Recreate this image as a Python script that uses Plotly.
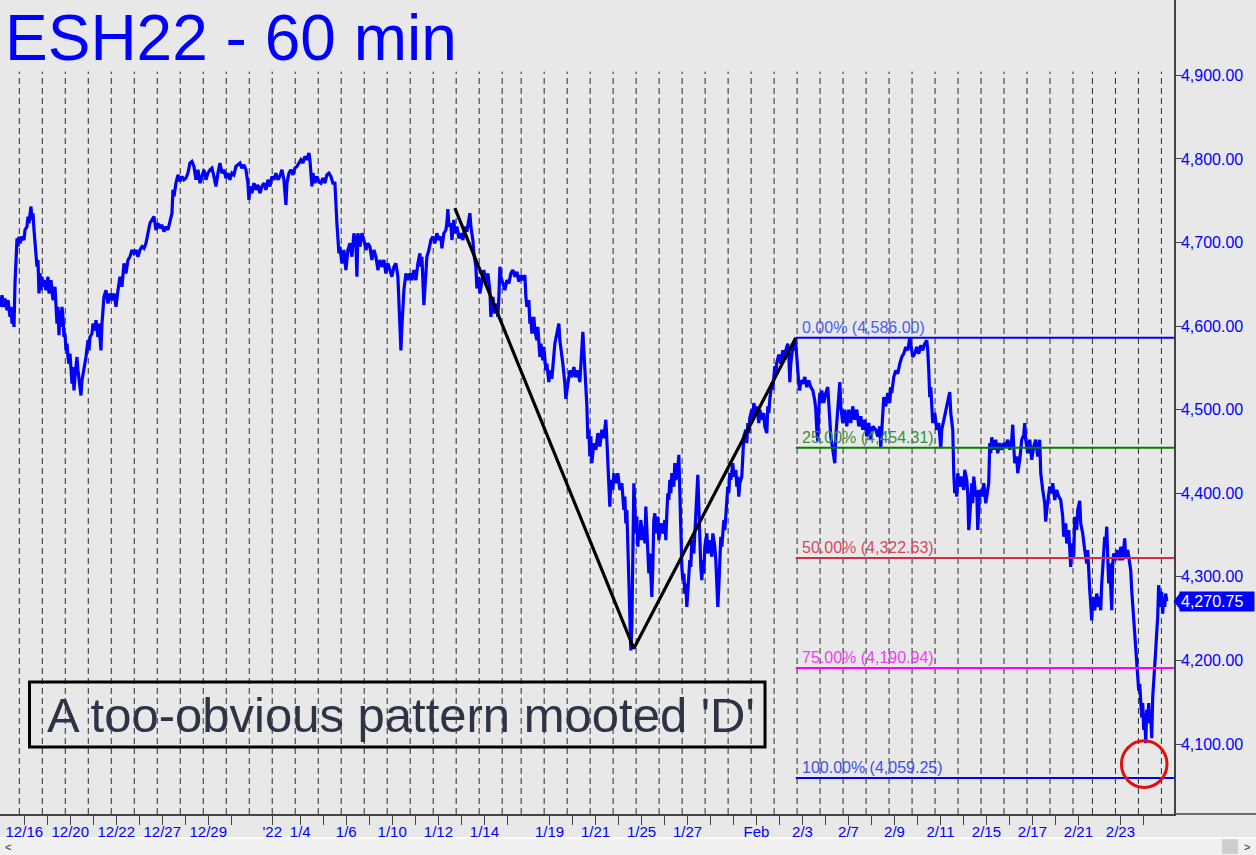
import math
import plotly.graph_objects as go

TITLE = "ESH22 - 60 min"
NOTE = "A too-obvious pattern mooted 'D'"
LAST_PRICE = 4270.75

# hourly closes: (bar index, price)
SEG_DEC = [
    (0, 4635), (1, 4623), (2, 4637), (4, 4623), (5, 4633), (7, 4619), (8, 4631), (10, 4611), (11, 4623),
    (12, 4603), (13, 4615), (14, 4599), (15, 4651), (16, 4691), (17, 4705), (18, 4695), (19, 4707), (20, 4699),
    (22, 4707), (24, 4703), (25, 4715), (27, 4719), (28, 4731), (29, 4723), (31, 4743), (32, 4727), (33, 4735),
    (34, 4715), (35, 4695), (36, 4687), (37, 4671), (38, 4679), (39, 4639), (40, 4663), (41, 4643), (42, 4659),
    (43, 4647), (44, 4655), (46, 4643), (48, 4659), (49, 4639), (51, 4655), (53, 4631), (55, 4647), (56, 4627),
    (57, 4603), (58, 4623), (59, 4589), (60, 4619), (61, 4599), (62, 4623), (63, 4611), (64, 4587), (65, 4591),
    (66, 4571), (67, 4579), (68, 4563), (69, 4555), (70, 4567), (71, 4547), (72, 4531), (73, 4551), (74, 4523),
    (75, 4539), (77, 4563), (78, 4547), (80, 4531), (81, 4517), (82, 4535), (84, 4547), (86, 4563), (88, 4583),
    (89, 4571), (90, 4587), (92, 4591), (93, 4603), (95, 4595), (96, 4607), (98, 4587), (99, 4603), (101, 4571),
    (102, 4603), (103, 4619), (104, 4635), (106, 4643), (108, 4627), (110, 4639), (112, 4631), (114, 4639),
    (116, 4623), (118, 4643), (120, 4659), (122, 4647), (124, 4675), (126, 4663), (128, 4679), (130, 4683),
    (132, 4691), (134, 4687), (136, 4691), (138, 4683), (140, 4691), (142, 4695), (144, 4693), (146, 4699),
    (148, 4711), (150, 4723), (152, 4727), (154, 4731), (156, 4715), (158, 4723), (160, 4717), (162, 4721),
    (164, 4713), (166, 4719), (168, 4715), (170, 4727), (172, 4735), (173, 4763), (174, 4755), (176, 4771),
    (178, 4781), (180, 4773), (182, 4779), (184, 4775), (186, 4777), (188, 4783), (190, 4795), (192, 4797),
    (194, 4791), (196, 4775), (198, 4787), (200, 4771), (202, 4779), (204, 4787), (206, 4775), (208, 4783),
    (210, 4787), (212, 4789), (214, 4779), (216, 4767), (218, 4783), (220, 4795), (222, 4783), (224, 4787),
    (226, 4777), (228, 4783), (230, 4775), (232, 4783), (234, 4781), (236, 4791), (238, 4793), (240, 4795),
    (242, 4789), (244, 4793), (246, 4787), (248, 4771), (249, 4751), (250, 4767), (252, 4759), (254, 4771),
    (256, 4763), (258, 4769), (260, 4759), (262, 4767), (264, 4771), (266, 4763), (268, 4775), (270, 4767),
]

SEG_JAN_A = [
    (272, 4779), (274, 4775), (276, 4783), (278, 4775), (280, 4779), (282, 4787), (284, 4775), (286, 4745),
    (287, 4771), (289, 4783), (291, 4787), (293, 4781), (295, 4789), (297, 4791), (299, 4795), (301, 4799),
    (303, 4795), (305, 4803), (307, 4799), (309, 4807), (310, 4799), (311, 4787), (312, 4767), (313, 4783),
    (315, 4771), (317, 4779), (319, 4773), (321, 4771), (323, 4777), (325, 4771), (327, 4781), (329, 4783),
    (331, 4779), (333, 4771), (335, 4771), (337, 4723), (338, 4699), (339, 4687), (340, 4695), (342, 4675),
    (344, 4691), (346, 4667), (348, 4691), (350, 4699), (352, 4683), (354, 4711), (356, 4699), (357, 4659),
    (358, 4711), (360, 4695), (362, 4711), (364, 4703), (366, 4691), (368, 4699), (370, 4695), (372, 4679),
    (374, 4691), (376, 4683), (378, 4667), (380, 4679), (382, 4671), (384, 4679), (386, 4663), (388, 4675),
    (390, 4667), (392, 4659), (394, 4671), (396, 4675), (398, 4659), (399, 4631), (400, 4603), (401, 4571),
    (402, 4599), (403, 4619), (404, 4643), (406, 4663), (408, 4655), (410, 4663), (412, 4655), (414, 4667),
    (416, 4655), (418, 4675), (420, 4687), (421, 4671), (422, 4683), (424, 4625), (425, 4643), (427, 4683),
    (429, 4691), (431, 4703), (433, 4707), (435, 4699), (437, 4711), (439, 4703), (441, 4707), (442, 4693),
    (444, 4711), (446, 4715), (447, 4723), (448, 4740), (449, 4719), (451, 4723), (452, 4703), (454, 4727),
    (455, 4711), (457, 4719), (459, 4705), (461, 4711), (463, 4703), (465, 4719), (467, 4713), (469, 4725),
    (470, 4735), (471, 4719), (473, 4703), (474, 4687), (476, 4671), (477, 4645), (479, 4659), (480, 4639),
    (482, 4655), (484, 4667), (486, 4651), (488, 4663), (490, 4643), (491, 4611), (493, 4635), (495, 4615),
    (497, 4627), (498, 4611), (499, 4635), (500, 4671), (501, 4659), (503, 4651), (505, 4643), (507, 4655),
    (509, 4651), (511, 4663), (513, 4667), (515, 4659), (517, 4665), (519, 4653), (521, 4661), (523, 4655),
    (525, 4661), (526, 4635), (527, 4623), (529, 4631), (530, 4603), (531, 4611), (532, 4591), (534, 4611),
    (535, 4595), (537, 4583), (538, 4599), (540, 4563), (541, 4579), (543, 4559), (544, 4575), (546, 4547),
    (547, 4555), (549, 4533), (550, 4547), (552, 4537), (553, 4555), (555, 4579), (557, 4591), (559, 4603),
    (560, 4583), (562, 4567), (563, 4555), (565, 4531), (566, 4513), (568, 4531), (570, 4547), (572, 4539),
    (574, 4551), (576, 4539), (578, 4547), (580, 4533), (581, 4551), (582, 4571), (583, 4593), (584, 4571),
    (585, 4551),
]

SEG_JAN_B = [
    (586, 4531), (587, 4505), (588, 4465), (589, 4476), (590, 4444), (591, 4468), (592, 4436), (594, 4460),
    (596, 4452), (598, 4472), (600, 4456), (602, 4476), (604, 4466), (606, 4488), (607, 4464), (608, 4436),
    (609, 4404), (610, 4384), (611, 4416), (613, 4404), (614, 4424), (616, 4412), (618, 4424), (620, 4404),
    (622, 4412), (623, 4396), (624, 4380), (625, 4396), (626, 4364), (627, 4380), (628, 4340), (629, 4300),
    (630, 4260), (631, 4212), (632, 4240), (633, 4330), (634, 4412), (635, 4384), (636, 4352), (637, 4372),
    (638, 4336), (639, 4360), (640, 4344), (641, 4368), (643, 4344), (644, 4360), (645, 4340), (646, 4384),
    (647, 4352), (648, 4320), (649, 4304), (650, 4328), (651, 4292), (652, 4276), (653, 4312), (654, 4368),
    (655, 4376), (656, 4352), (658, 4372), (659, 4344), (661, 4364), (663, 4352), (665, 4368), (666, 4344),
    (667, 4376), (668, 4400), (669, 4392), (670, 4416), (671, 4400), (672, 4424), (674, 4408), (675, 4436),
    (676, 4416), (678, 4430), (679, 4446), (680, 4400), (681, 4336), (682, 4312), (683, 4296), (684, 4304),
    (685, 4280), (686, 4292), (687, 4264), (688, 4284), (689, 4296), (690, 4320), (691, 4312), (692, 4344),
    (694, 4328), (695, 4352), (696, 4376), (697, 4396), (698, 4422), (699, 4384), (700, 4328), (701, 4312),
    (702, 4296), (703, 4320), (704, 4304), (705, 4336), (707, 4352), (708, 4328), (710, 4344), (712, 4324),
    (713, 4352), (715, 4336), (716, 4320), (717, 4296), (718, 4264), (719, 4288), (720, 4320), (721, 4348),
    (722, 4336), (724, 4368), (725, 4356), (726, 4376), (727, 4392), (728, 4408), (729, 4400), (730, 4424),
    (731, 4416), (733, 4436), (734, 4420), (736, 4428), (737, 4408), (738, 4420), (739, 4396), (740, 4412),
    (742, 4420), (743, 4452), (744, 4468), (746, 4476), (747, 4460), (748, 4484), (749, 4472), (750, 4490),
    (752, 4500), (753, 4488), (754, 4508),
]

SEG_FEB_A = [
    (756, 4496), (757, 4504), (759, 4484), (760, 4500), (762, 4488), (764, 4496), (765, 4480), (767, 4472),
    (768, 4504), (769, 4496), (770, 4512), (771, 4520), (772, 4532), (773, 4524), (774, 4540), (775, 4552),
    (776, 4544), (777, 4556), (779, 4566), (781, 4555), (783, 4571), (785, 4560), (786, 4571), (788, 4579),
    (789, 4567), (790, 4533), (791, 4555), (793, 4575), (794, 4571), (795, 4584), (796, 4579), (797, 4560),
    (798, 4539), (799, 4531), (800, 4523), (801, 4535), (803, 4531), (805, 4539), (807, 4527), (809, 4535),
    (811, 4527), (813, 4523), (815, 4511), (816, 4500), (817, 4476), (818, 4462), (819, 4500), (820, 4520),
    (821, 4508), (822, 4523), (824, 4508), (826, 4520), (828, 4527), (829, 4512), (830, 4488), (831, 4468),
    (833, 4452), (835, 4436), (836, 4468), (838, 4500), (840, 4533), (841, 4504), (843, 4484), (845, 4500),
    (847, 4480), (849, 4500), (851, 4484), (853, 4504), (855, 4488), (857, 4500), (859, 4480), (861, 4492),
    (863, 4476), (865, 4488), (867, 4468), (869, 4484), (871, 4464), (873, 4480), (876, 4476), (878, 4468),
    (880, 4480), (881, 4455), (882, 4476), (883, 4500), (884, 4515), (886, 4504), (888, 4520), (890, 4508),
    (891, 4527), (892, 4520), (894, 4539), (896, 4547), (898, 4543), (900, 4555), (902, 4563), (904, 4567),
    (906, 4575), (908, 4571), (910, 4586), (911, 4579), (912, 4571), (913, 4563), (915, 4567), (917, 4575),
    (919, 4567), (921, 4577), (923, 4571), (925, 4579), (927, 4583), (928, 4571), (929, 4547), (930, 4515),
    (931, 4527), (932, 4499), (933, 4484), (935, 4496), (937, 4476), (939, 4484), (941, 4454), (942, 4476),
    (944, 4488), (946, 4499), (948, 4508), (950, 4521), (951, 4496), (952, 4484), (953, 4476), (954, 4424),
    (955, 4400), (956, 4412), (957, 4396), (958, 4424), (960, 4408), (962, 4420), (964, 4404), (965, 4428),
    (967, 4416), (968, 4400), (969, 4356), (970, 4372), (971, 4404), (972, 4412), (973, 4388), (974, 4420),
    (976, 4396), (977, 4404), (978, 4356), (979, 4380), (980, 4404), (982, 4396), (984, 4412), (986, 4388),
    (988, 4404), (989, 4412), (990, 4460), (991, 4448), (992, 4467), (994, 4452), (996, 4464), (998, 4448),
    (1000, 4460),
]

SEG_FEB_B = [
    (1002, 4452), (1004, 4460), (1006, 4456), (1008, 4464), (1010, 4452), (1012, 4464), (1013, 4482),
    (1014, 4456), (1015, 4436), (1017, 4444), (1018, 4424), (1020, 4440), (1022, 4464), (1024, 4470),
    (1025, 4484), (1026, 4464), (1028, 4448), (1030, 4464), (1032, 4440), (1034, 4456), (1036, 4464),
    (1038, 4444), (1040, 4464), (1041, 4424), (1042, 4412), (1043, 4404), (1045, 4388), (1046, 4366),
    (1047, 4380), (1048, 4392), (1050, 4408), (1052, 4400), (1053, 4412), (1055, 4392), (1057, 4404),
    (1059, 4396), (1061, 4392), (1063, 4372), (1064, 4348), (1066, 4364), (1067, 4340), (1069, 4356),
    (1070, 4332), (1071, 4312), (1072, 4340), (1074, 4324), (1075, 4372), (1077, 4356), (1078, 4380),
    (1080, 4391), (1081, 4364), (1083, 4352), (1085, 4332), (1087, 4316), (1088, 4332), (1089, 4300),
    (1090, 4284), (1091, 4268), (1092, 4248), (1093, 4276), (1095, 4260), (1097, 4280), (1099, 4264),
    (1100, 4276), (1101, 4260), (1102, 4292), (1104, 4324), (1105, 4348), (1106, 4336), (1107, 4360),
    (1108, 4324), (1109, 4292), (1110, 4316), (1111, 4292), (1112, 4260), (1113, 4316), (1114, 4328),
    (1116, 4320), (1118, 4332), (1120, 4320), (1121, 4336), (1123, 4320), (1125, 4346), (1126, 4324),
    (1128, 4332), (1130, 4316), (1131, 4308), (1132, 4284), (1134, 4252), (1135, 4236), (1136, 4216),
    (1137, 4204), (1138, 4188), (1139, 4164), (1140, 4172), (1141, 4156), (1142, 4132), (1143, 4149),
    (1144, 4117), (1145, 4137), (1146, 4101), (1147, 4141), (1148, 4125), (1149, 4149), (1150, 4125),
    (1151, 4137), (1152, 4107), (1153, 4156), (1154, 4172), (1155, 4196), (1156, 4212), (1157, 4233),
    (1158, 4252), (1159, 4290), (1160, 4280), (1161, 4264), (1162, 4282), (1163, 4256), (1164, 4276),
    (1165, 4264), (1166, 4280), (1167, 4270.75),
]

# ABCD pattern pivots (A high, B low, C high)
PATTERN_BARS = [455, 634, 796]
PATTERN_PRICES = [4741.0, 4214.25, 4586.0]

FIB_PCTS = [0, 25, 50, 75, 100]
FIB_LINE_COLORS = ["#0000ff", "#008000", "#d22c48", "#ff00ff", "#0000ff"]
FIB_TEXT_COLORS = ["#4a5cf2", "#3a8f3a", "#d8465e", "#f03cf0", "#3c50ea"]

Y_TICKS = [4100, 4200, 4300, 4400, 4500, 4600, 4700, 4800, 4900]

TICK_BARS = [24.3, 47.3, 70.3, 93.3, 116.3, 139.3, 162.3, 185.3, 208.3, 231.3, 272.3, 300.3, 323.3,
             346.3, 369.3, 392.3, 415.3, 438.5, 461.5, 484.5, 507.5, 549.7, 572.7, 595.7, 618.7, 641.7,
             664.7, 687.7, 710.7, 733.7, 756.7, 779.7, 802.7, 825.7, 848.7, 871.7, 894.7, 917.7, 940.7,
             963.7, 986.7, 1009.7, 1032.7, 1055.7, 1078.7, 1120.7, 1143.7]
TICK_TEXT = ["12/16", "", "12/20", "", "12/22", "", "12/27", "", "12/29", "", "'22", "1/4", "",
             "1/6", "", "1/10", "", "1/12", "", "1/14", "", "1/19", "", "1/21", "", "1/25",
             "", "1/27", "", "", "Feb", "", "2/3", "", "2/7", "", "2/9", "", "2/11",
             "", "2/15", "", "2/17", "", "2/21", "2/23", ""]

# session (day) boundaries in bar units
SESSION_STARTS = ([19.3 + 23 * k for k in range(22)] + [521.3 + 23 * k for k in range(25)]
                  + [1092.7 + 23 * k for k in range(4)])

X_MAX = 1174.3
Y_MIN, Y_MAX = 4016.3, 4990.1
FONT = "Liberation Sans, Arial, sans-serif"
BG = "#e8e8e8"

bars, prices = [], []
for seg in (SEG_DEC, SEG_JAN_A, SEG_JAN_B, SEG_FEB_A, SEG_FEB_B):
    for b, p in seg:
        bars.append(b)
        prices.append(p)

fig = go.Figure()
fig.add_trace(go.Scatter(x=bars, y=prices, mode="lines",
                         line=dict(color="#0000ff", width=3.2), hoverinfo="skip"))
fig.add_trace(go.Scatter(x=PATTERN_BARS, y=PATTERN_PRICES, mode="lines",
                         line=dict(color="#000000", width=3.2), hoverinfo="skip"))

shapes = []
for s in SESSION_STARTS:
    shapes.append(dict(type="line", xref="x", yref="paper", x0=s, x1=s, y0=0, y1=0.912,
                       line=dict(color="#2a2a2a", width=1, dash="6px,4px"), layer="below"))

swing = PATTERN_PRICES[0] - PATTERN_PRICES[1]
annotations = []
for pct, lc, tc in zip(FIB_PCTS, FIB_LINE_COLORS, FIB_TEXT_COLORS):
    level = PATTERN_PRICES[2] - pct / 100.0 * swing
    shapes.append(dict(type="line", xref="x", yref="y", x0=PATTERN_BARS[2], x1=X_MAX, y0=level, y1=level,
                       line=dict(color=lc, width=2), layer="above"))
    shown = math.floor(level * 100 + 0.5) / 100
    annotations.append(dict(xref="x", yref="y", x=PATTERN_BARS[2] + 4, y=level, xanchor="left",
                            yanchor="bottom", showarrow=False, text=f"{pct:.2f}% ({shown:,.2f})",
                            font=dict(family=FONT, size=16, color=tc)))

# red circle highlighting the near-miss of the D target
CIRCLE_BAR, CIRCLE_PRICE, CIRCLE_RX, CIRCLE_RY = 1144.5, 4076.0, 22.8, 27.9
shapes.append(dict(type="circle", xref="x", yref="y", x0=CIRCLE_BAR - CIRCLE_RX, x1=CIRCLE_BAR + CIRCLE_RX,
                   y0=CIRCLE_PRICE - CIRCLE_RY, y1=CIRCLE_PRICE + CIRCLE_RY,
                   line=dict(color="#e01010", width=3), layer="above"))

# note box
shapes.append(dict(type="rect", xref="paper", yref="paper", x0=29.5 / 1174, x1=765 / 1174,
                   y0=(814 - 747) / 814, y1=(814 - 682) / 814, line=dict(color="#000000", width=3)))

# bottom extension of axis line + scrollbar strip
shapes.append(dict(type="rect", xref="paper", yref="paper", x0=-0.01, x1=1.08, y0=-0.0505, y1=-0.0295,
                   fillcolor="#f0f0f0", line=dict(width=0), layer="below"))
shapes.append(dict(type="line", xref="paper", yref="paper", x0=-0.01, x1=1.08, y0=-0.0295, y1=-0.0295,
                   line=dict(color="#ffffff", width=1.5)))
shapes.append(dict(type="rect", xref="paper", yref="paper", x0=1222 / 1174, x1=1238 / 1174,
                   y0=-0.049, y1=-0.031, fillcolor="#cdcdcd", line=dict(width=0)))
shapes.append(dict(type="line", xref="paper", yref="paper", x0=1, x1=1.08, y0=0, y1=0,
                   line=dict(color="#444444", width=1.5)))

# last price tag
tag_h = 9.5 / 0.8359
shapes.append(dict(type="path", xref="paper", yref="y",
                   path=f"M {1173.5/1174},{LAST_PRICE} L {1181/1174},{LAST_PRICE + tag_h} "
                        f"L {1181/1174},{LAST_PRICE - tag_h} Z",
                   fillcolor="#0000ff", line=dict(width=0)))
annotations.append(dict(xref="paper", yref="y", x=1179 / 1174, y=LAST_PRICE, xanchor="left", yanchor="middle",
                        showarrow=False, text=f"{LAST_PRICE:,.2f}", bgcolor="#0000ff", width=72, height=17,
                        align="left", borderpad=1, font=dict(family=FONT, size=16, color="#ffffff")))

annotations.append(dict(xref="paper", yref="paper", x=3 / 1174, y=1.0, xanchor="left", yanchor="top",
                        showarrow=False, text=TITLE, font=dict(family=FONT, size=64, color="#0000ff")))
annotations.append(dict(xref="paper", yref="paper", x=45 / 1174, y=(814 - 686) / 814, xanchor="left",
                        yanchor="top", showarrow=False, text=NOTE,
                        font=dict(family=FONT, size=49, color="#2c3446")))
annotations.append(dict(xref="paper", yref="paper", x=8 / 1174, y=-0.0405, xanchor="center", yanchor="middle",
                        showarrow=False, text="<b>&lt;</b>", font=dict(family=FONT, size=11, color="#606060")))
annotations.append(dict(xref="paper", yref="paper", x=1247 / 1174, y=-0.0405, xanchor="center",
                        yanchor="middle", showarrow=False, text="<b>&gt;</b>",
                        font=dict(family=FONT, size=11, color="#606060")))

fig.update_layout(
    width=1256, height=855,
    margin=dict(l=0, r=82, t=0, b=41),
    paper_bgcolor=BG, plot_bgcolor=BG,
    showlegend=False,
    shapes=shapes, annotations=annotations,
    xaxis=dict(range=[0, X_MAX], showgrid=False, zeroline=False, showline=True, linecolor="#444444",
               linewidth=1.5, ticks="outside", ticklen=9, tickwidth=1, tickcolor="#444444",
               tickmode="array", tickvals=TICK_BARS, ticktext=TICK_TEXT, ticklabelstandoff=-6,
               tickfont=dict(family=FONT, size=15, color="#0000ff")),
    yaxis=dict(range=[Y_MIN, Y_MAX], side="right", showgrid=False, zeroline=False, showline=True,
               linecolor="#444444", linewidth=1.5, ticks="outside", ticklen=6, tickcolor="#444444",
               tickmode="array", tickvals=Y_TICKS, ticktext=[f"{v:,.2f}" for v in Y_TICKS],
               ticklabelstandoff=-4, tickfont=dict(family=FONT, size=16, color="#0000ff")),
)

fig.write_html("out.html", config={"displayModeBar": False},
               post_script="document.body.style.margin='0';document.body.style.overflow='hidden';")
